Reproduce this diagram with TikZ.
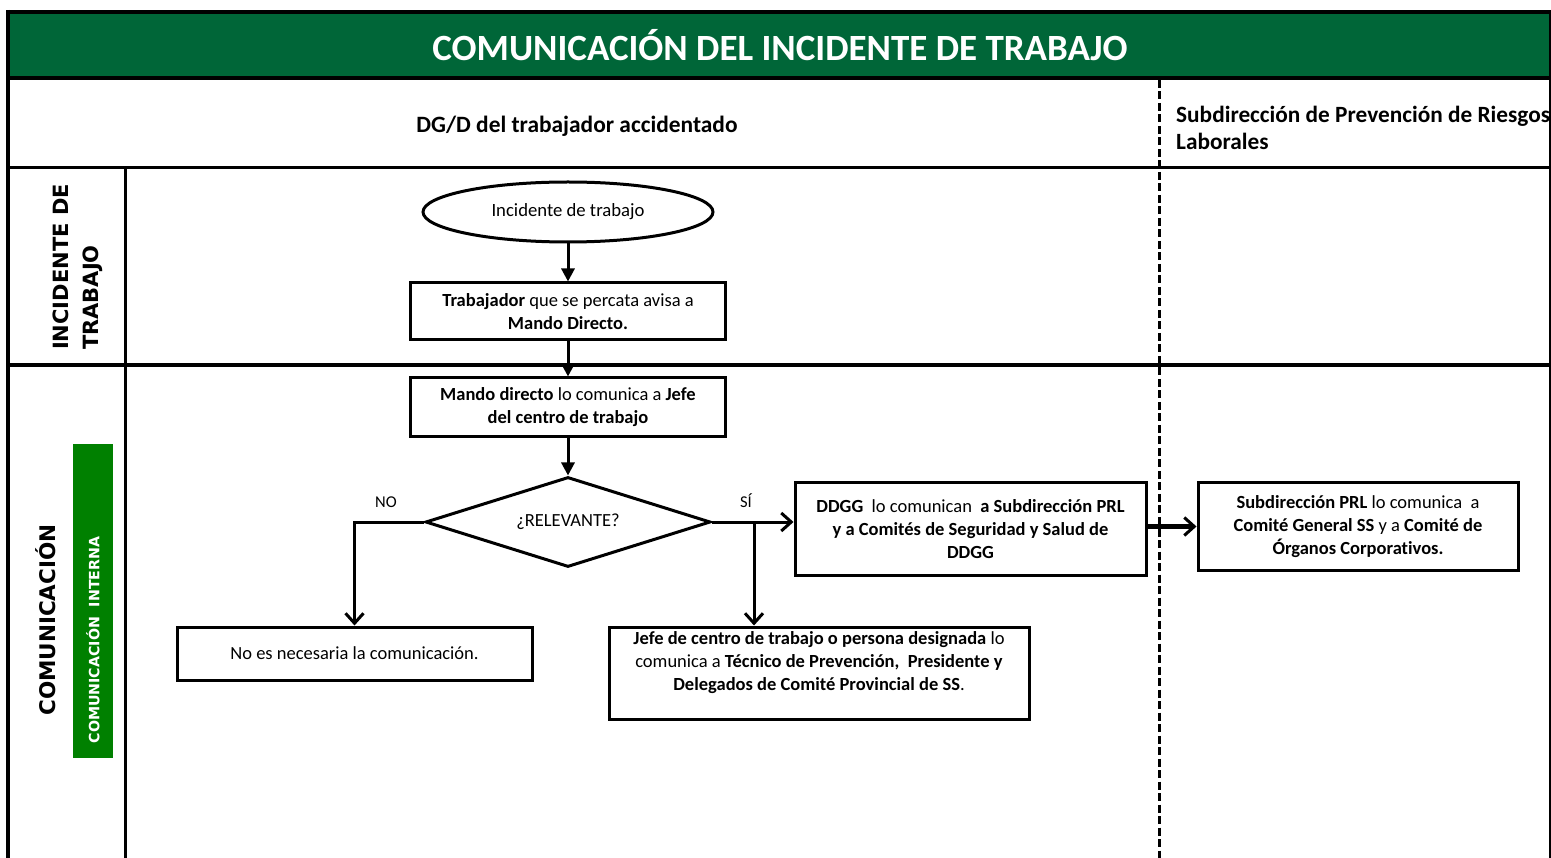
\documentclass[tikz,border=0pt]{standalone}
\usepackage{fontspec}
\setmainfont{Carlito}[Ligatures=NoCommon]
\newfontfamily\vfont{DejaVu Sans}
\usetikzlibrary{shapes.geometric,arrows.meta}
\definecolor{titlegreen}{RGB}{0,102,56}
\definecolor{bandgreen}{RGB}{0,128,0}
\tikzset{
  box/.style={draw, line width=3pt, rectangle, align=center, inner sep=0pt,
    font=\fontsize{18.5}{23}\selectfont},
  flow/.style={line width=3pt, -{Triangle[length=13pt,width=13pt]}},
  barb/.style={line width=3pt, -{Straight Barb[length=10pt,width=18pt,line width=3pt]}},
  lane/.style={line width=4pt},
  thinlane/.style={line width=3pt},
  lbl/.style={font=\fontsize{16.5}{18}\selectfont, inner sep=0pt},
}
\begin{document}
\begin{tikzpicture}[x=1pt,y=-1pt]
\useasboundingbox (0,0) rectangle (1551,858);
\clip (0,0) rectangle (1551,858);
% frame
\fill[titlegreen] (8,12) rectangle (1551,78);
\draw[lane] (6,12) -- (1551,12);
\draw[lane] (8,10) -- (8,858);
\draw[line width=2pt] (1550,10) -- (1550,858);
\draw[lane] (6,78) -- (1551,78);
\draw[thinlane] (6,168) -- (1551,168);
\draw[lane] (6,365) -- (1551,365);
\draw[thinlane] (125,168) -- (125,858);
\draw[line width=3pt, dash pattern=on 8pt off 3.5pt] (1159,80) -- (1159,858);
% titles
\node[text=white, font=\bfseries\fontsize{37}{40}\selectfont] (title) at (780,45) {COMUNICACIÓN DEL INCIDENTE DE TRABAJO};
\node[font=\bfseries\fontsize{23.4}{27}\selectfont] (hdr1) at (577,126) {DG/D del trabajador accidentado};
\node[font=\bfseries\fontsize{23.3}{27}\selectfont, align=left, anchor=west, inner sep=0pt] (hdr2) at (1176,128) {Subdirección de Prevención de Riesgos\\Laborales};
% lane labels
\node[rotate=90, font=\vfont\bfseries\fontsize{21}{30}\selectfont, align=left] (lane1) at (78,267) {INCIDENTE DE\\TRABAJO};
\node[rotate=90, font=\vfont\bfseries\fontsize{21.5}{24}\selectfont] (lane2) at (46,620) {COMUNICACIÓN};
\fill[bandgreen] (73,444) rectangle (113,758);
\node[rotate=90, text=white, font=\vfont\bfseries\fontsize{14.2}{16}\selectfont] (band) at (93,640) {COMUNICACIÓN\ \ INTERNA};
% flow nodes
\node[ellipse, draw, line width=3pt, minimum width=290pt, minimum height=60pt, inner sep=0pt,
  font=\fontsize{18.7}{20}\selectfont] (ell) at (568,212) {Incidente de trabajo};
\node[box, minimum width=315pt, minimum height=57pt] (b1) at (568,311.5)
  {\textbf{Trabajador} que se percata avisa a\\\textbf{Mando Directo.}};
\node[box, minimum width=315pt, minimum height=59pt] (b2) at (568,407.5)
  {\textbf{Mando directo} lo comunica a \textbf{Jefe}\\\textbf{del centro de trabajo}};
\node[diamond, draw, line width=3pt, aspect=3.1, minimum width=285pt, minimum height=90pt, inner sep=0pt,
  font=\fontsize{18.5}{20}\selectfont] (dia) at (568,522) {¿RELEVANTE?};
\node[box, minimum width=355pt, minimum height=53pt] (nobox) at (354.5,653.5)
  {No es necesaria la comunicación.};
\node[box, minimum width=420pt, minimum height=92pt] (jefe) at (819,673)
  {\textbf{Jefe de centro de trabajo o persona designada} lo\\comunica a \textbf{Técnico de Prevención,\ \ Presidente y}\\\textbf{Delegados de Comité Provincial de SS}.\\\mbox{}};
\node[box, minimum width=351pt, minimum height=92pt] (ddgg) at (970.5,529)
  {\textbf{DDGG}\ \ lo comunican\ \ \textbf{a Subdirección PRL}\\\textbf{y a Comités de Seguridad y Salud de}\\\textbf{DDGG}};
\node[box, minimum width=320pt, minimum height=87pt] (subd) at (1358,526.5)
  {\textbf{Subdirección PRL} lo comunica\ \ a\\\textbf{Comité General SS} y a \textbf{Comité de}\\\textbf{Órganos Corporativos.}};
% labels
\node[lbl] (no) at (386,502) {NO};
\node[lbl] (si) at (746,501) {SÍ};
% connectors
\draw[flow] (ell) -- (b1);
\draw[flow] (b1) -- (b2);
\draw[flow] (b2) -- (dia);
\draw[barb] (dia.west) -| (nobox.north);
\draw[barb] (dia.east) -- (dia.east -| ddgg.west);
\coordinate (br) at (754,522);
\draw[barb] (br) -- (br |- jefe.north);
\draw[barb, line width=4.5pt] (ddgg.east |- subd.west) -- (subd.west);
\end{tikzpicture}
\end{document}
